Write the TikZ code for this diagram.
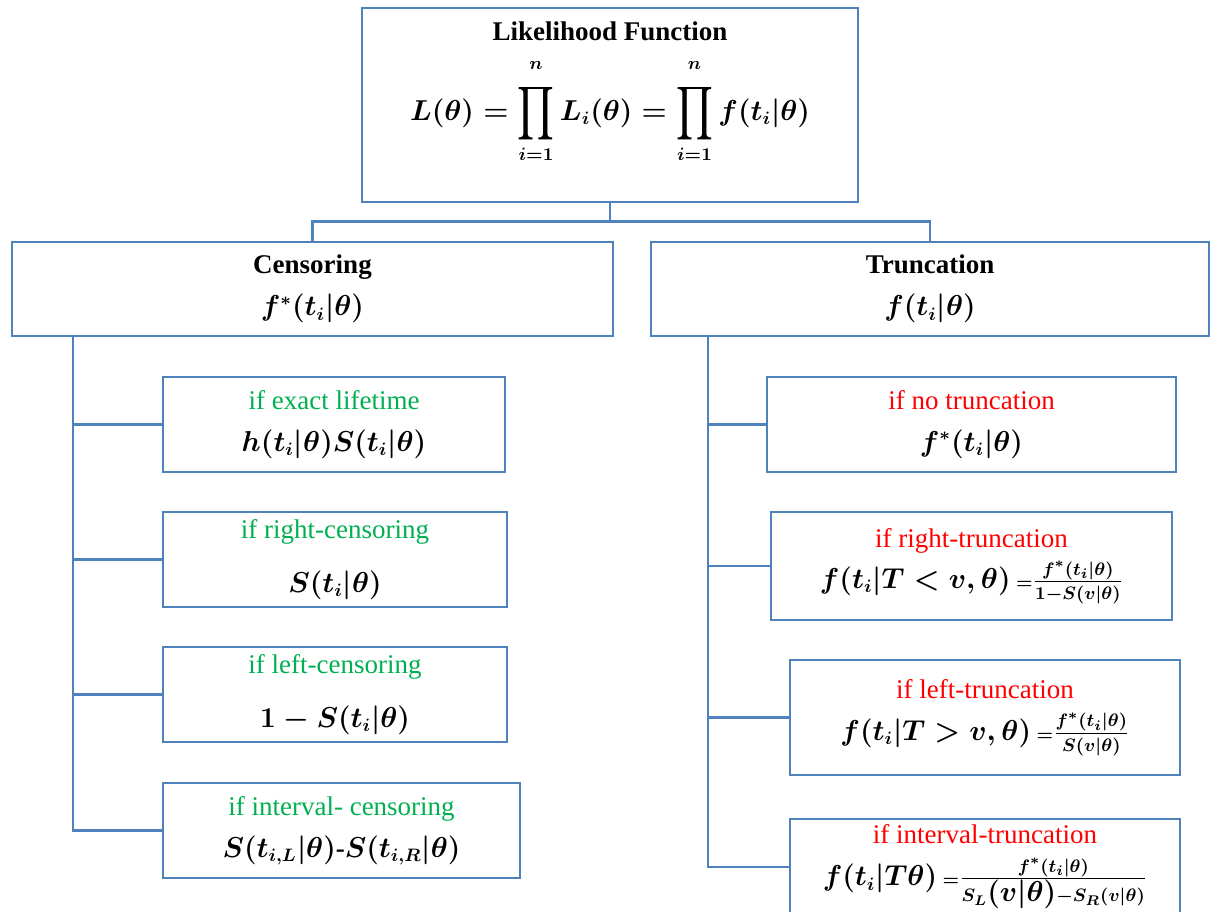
\documentclass[tikz,border=0pt]{standalone}
\usepackage{amsmath}
\usepackage{graphicx}
\usepackage{fontspec}
\setmainfont{Liberation Serif}
\usepackage{tikz}
\usetikzlibrary{positioning}
\definecolor{boxblue}{HTML}{4F81BD}
\definecolor{ifgreen}{HTML}{00B050}
\definecolor{ifred}{HTML}{FF0000}
\newcommand{\tallprod}{\mathop{\vcenter{\hbox{\scalebox{1}[1.3]{$\displaystyle\prod$}}}}\limits}
\newcommand{\uplim}[1]{\raisebox{4pt}{$\scriptstyle #1$}}
\tikzset{
  box/.style={draw=boxblue, line width=1.3pt, fill=white, inner sep=2pt, align=center,
    font=\fontsize{13.5}{16}\selectfont\boldmath},
  link/.style={draw=boxblue, line width=1.3pt},
}

\begin{document}
\begin{tikzpicture}[x=0.5pt, y=-0.5pt]
    \useasboundingbox (0,0) rectangle (1216,911);

    % likelihood
    \node[box, minimum width=248pt, minimum height=97pt] (lik) at (610,105) {};
    \node[below=4pt of lik.north, align=center, font=\fontsize{13.5}{16}\selectfont\boldmath] (liktext)
      {\textbf{Likelihood Function}\\[8pt]
       $\displaystyle L(\theta)=\tallprod_{i=1}^{\uplim{n}}L_i(\theta)=\tallprod_{i=1}^{\uplim{n}}f(t_i|\theta)$};

    \node[box, minimum width=300.5pt, minimum height=47pt] (cens) at (312.5,289)
      {\textbf{Censoring}\\[5pt] $f^*(t_i|\theta)$};
    \node[box, minimum width=279pt, minimum height=47pt] (trunc) at (930,289)
      {\textbf{Truncation}\\[5pt] $f(t_i|\theta)$};

    % censoring cases
    \node[box, minimum width=171pt, minimum height=47.5pt] (exact) at (334,424.5)
      {\textcolor{ifgreen}{if exact lifetime}\\[5pt] $h(t_i|\theta)S(t_i|\theta)$};
    \node[box, minimum width=172pt, minimum height=47.5pt] (rcens) at (335,559.5)
      {\textcolor{ifgreen}{if right-censoring}\\[11pt] $S(t_i|\theta)$};
    \node[box, minimum width=172pt, minimum height=47.5pt] (lcens) at (335,694.5)
      {\textcolor{ifgreen}{if left-censoring}\\[11pt] $1-S(t_i|\theta)$};
    \node[box, minimum width=178.5pt, minimum height=47.5pt] (icens) at (341.5,830.5)
      {\textcolor{ifgreen}{if interval- censoring}\\[5pt] $S(t_{i,L}|\theta)$\textbf{-}$S(t_{i,R}|\theta)$};

    % truncation cases
    \node[box, minimum width=204.5pt, minimum height=47.5pt] (notr) at (971.5,424.5)
      {\textcolor{ifred}{if no truncation}\\[5pt] $f^*(t_i|\theta)$};
    \node[box, minimum width=200.5pt, minimum height=54pt] (rtr) at (971.5,566)
      {\textcolor{ifred}{if right-truncation}\\[3pt]
       $f(t_i|T<v,\theta)\,{\scriptstyle=}\frac{f^*(t_i|\theta)}{1-S(v|\theta)}$};
    \node[box, minimum width=195pt, minimum height=57.5pt] (ltr) at (985,717.5)
      {\textcolor{ifred}{if left-truncation}\\[5pt]
       $f(t_i|T>v,\theta)\,{\scriptstyle=}\frac{f^*(t_i|\theta)}{S(v|\theta)}$};
    \node[box, minimum width=195pt, minimum height=48pt] (itr) at (985,867)
      {\textcolor{ifred}{if interval-truncation}\\[5pt]
       $f(t_i|T\theta)\,{\scriptstyle=}\frac{f^*(t_i|\theta)}{S_L{\textstyle(v|\theta)}-S_R(v|\theta)}$};

    \coordinate (ltrunk) at (73,0);
    \coordinate (rtrunk) at (708,0);

    \draw[link] (lik.south) -- ++(0,18) -| (cens.north);
    \draw[link] (lik.south) -- ++(0,18) -| (trunc.north);
    \foreach \c in {exact,rcens,lcens,icens}
      \draw[link] (cens.south -| ltrunk) |- (\c.west);
    \foreach \c in {notr,rtr,ltr,itr}
      \draw[link] (trunc.south -| rtrunk) |- (\c.west);
\end{tikzpicture}
\end{document}
